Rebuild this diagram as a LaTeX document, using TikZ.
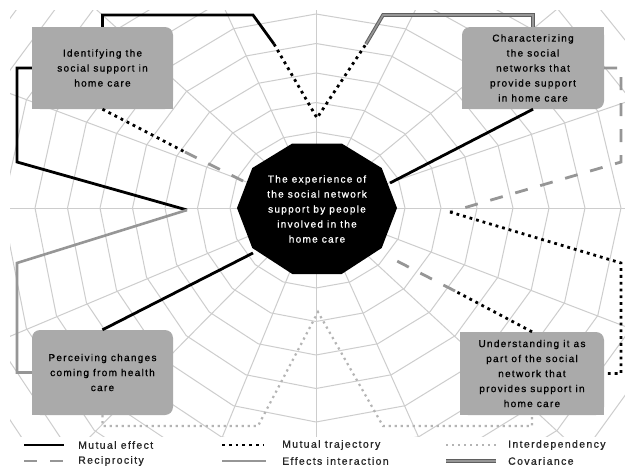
\documentclass[tikz,border=0pt]{standalone}
\usepackage{fontspec}
\setmainfont{Liberation Sans}[LetterSpace=13,FakeBold=0.9]
\usetikzlibrary{calc}
\definecolor{boxgray}{RGB}{170,170,170}
\definecolor{webgray}{RGB}{205,205,205}
\definecolor{recipgray}{RGB}{150,150,150}
\definecolor{effgray}{RGB}{150,150,150}
\definecolor{interdepgray}{RGB}{180,180,180}
\definecolor{covdark}{RGB}{95,95,95}
\definecolor{covlight}{RGB}{150,150,150}
\newcommand\bxfont{\fontsize{10}{15}\selectfont}
\newcommand\lgfont{\fontsize{10.5}{12}\selectfont}
\begin{document}
\begin{tikzpicture}[x=1pt,y=-1pt,
  webline/.style={draw=webgray, line width=1pt, line join=round},
  meffect/.style={draw=black, line width=2.8pt},
  mtraj/.style={draw=black, line width=2.8pt, dash pattern=on 2.8pt off 4pt},
  interdep/.style={draw=interdepgray, line width=2.2pt, dash pattern=on 2.2pt off 3.8pt},
  recip/.style={draw=recipgray, line width=2.8pt, dash pattern=on 13pt off 13pt},
  effint/.style={draw=effgray, line width=2.6pt},
  covar/.style={draw=covdark, line width=1pt, double=covlight, double distance=1.6pt},
  gbox/.style={fill=boxgray, rounded corners=8pt, inner sep=0pt, align=center, font=\bxfont, text=black},
  lgtext/.style={anchor=west, inner sep=0pt, font=\lgfont, text=black!85}]
\useasboundingbox (0,0) rectangle (625,469);
\fill[white] (0,0) rectangle (625,469);
% ---------- web ----------
\def\cx{316}\def\cy{208}
\coordinate (wc) at (\cx,\cy);
\foreach \k in {1,...,13}{
  \foreach \i in {0,...,15}{
    \pgfmathsetmacro\c{cos(90+22.5*\i)}
    \pgfmathsetmacro\s{sin(90+22.5*\i)}
    \pgfmathsetmacro\a{\c>0 ? 89+36*(\k-1) : 86+32.5*(\k-1)}
    \pgfmathsetmacro\b{\s>0 ? 76+29.5*(\k-1) : 80+33.5*(\k-1)}
    \coordinate (w-\k-\i) at ({\cx+\a*\c},{\cy-\b*\s});
  }
}
\begin{scope}
\clip (10,10) rectangle (625,436);
\foreach \i in {0,...,15} \draw[webline] (wc) -- (w-13-\i);
\foreach \k in {1,...,13} \draw[webline] (w-\k-0) \foreach \i in {1,...,15}{ -- (w-\k-\i) } -- cycle;
\end{scope}
% ---------- centre ----------
\fill[black] (397,208) -- (381.7,168) -- (341.7,143.5) -- (292.3,143.5) -- (252.3,168) -- (237,208)
  -- (252.3,248) -- (292.3,274) -- (341.7,274) -- (381.7,248) -- cycle;
\node[align=center, text=white, font=\bxfont, inner sep=0pt] (core) at (317,209)
  {The experience of\\the social network\\support by people\\involved in the\\home care};
% ---------- boxes (nodes) ----------
\node[gbox, minimum width=141pt, minimum height=82pt] (b1) at (102.5,68) {Identifying the\\social support in\\home care};
\node[gbox, minimum width=142pt, minimum height=82pt] (b2) at (533,68) {Characterizing\\the social\\networks that\\provide support\\in home care};
\node[gbox, minimum width=141pt, minimum height=85pt] (b3) at (102.5,372.5) {Perceiving changes\\coming from health\\care};
\node[gbox, minimum width=144pt, minimum height=83pt] (b4) at (532,373.5) {Understanding it as\\part of the social\\network that\\provides support in\\home care};
% square corners
\fill[boxgray] (b1.north west) rectangle ++(9,9);
\fill[boxgray] (b1.south west) rectangle ++(9,-9);
\fill[boxgray] (b1.south east) rectangle ++(-9,-9);
\fill[boxgray] (b2.north east) rectangle ++(-9,9);
\fill[boxgray] (b2.south west) rectangle ++(9,-9);
\fill[boxgray] (b3.south west) rectangle ++(9,-9);
\fill[boxgray] (b4.north west) rectangle ++(9,9);
\fill[boxgray] (b4.south west) rectangle ++(9,-9);
\fill[boxgray] (b4.south east) rectangle ++(-9,-9);
% ---------- connector points ----------
\coordinate (p2) at (253,15);
\coordinate (p3) at (274,44);
\coordinate (p4) at (317,118);
\coordinate (p5) at (366,44);
\coordinate (p6) at (383,15);
\coordinate (q1) at (17,162);
\coordinate (q2) at (187,210);
\coordinate (q3) at (17,263);
\coordinate (r1) at (185,152);
\coordinate (r2) at (243,181);
\coordinate (e2) at (390,183);
\coordinate (s1) at (621,162);
\coordinate (s2) at (450,212);
\coordinate (s3) at (621,263);
\coordinate (t1) at (455,291);
\coordinate (t2) at (395,260);
\coordinate (e3) at (253,253);
\coordinate (u1) at (258,426);
\coordinate (u2) at (318,312);
\coordinate (u3) at (383,426);
% ---------- connectors ----------
\draw[meffect] (b1.north) |- (p2) -- (p3);
\draw[mtraj] (p3) -- (p4) -- (p5);
\draw[covar] (p5) -- (p6) -| (b2.north);
\draw[meffect] (b1.west) -| (q1) -- (q2);
\draw[effint] (q2) -- (q3) |- (b3.west);
\draw[mtraj] (b1.south) -- (r1);
\draw[recip] (r1) -- (r2);
\draw[meffect] (b2.south) -- (e2);
\draw[recip] (b2.east) -| (s1) -- (s2);
\draw[mtraj] (s2) -- (s3) |- (b4.east);
\draw[mtraj] (b4.north) -- (t1);
\draw[recip] (t1) -- (t2);
\draw[meffect] (b3.north) -- (e3);
\draw[interdep] (b3.south) |- (u1) -- (u2) -- (u3) -| (b4.south);
% ---------- legend ----------
\node[lgtext] (l1) at (78,445) {Mutual effect};
\node[lgtext] (l2) at (282,445) {Mutual trajectory};
\node[lgtext] (l3) at (508,445) {Interdependency};
\node[lgtext] (l4) at (78,461) {Reciprocity};
\node[lgtext] (l5) at (282,461) {Effects interaction};
\node[lgtext] (l6) at (508,461) {Covariance};
\draw[meffect] ([xshift=-54pt]l1.west) -- ([xshift=-14pt]l1.west);
\draw[mtraj] ([xshift=-60pt]l2.west) -- ([xshift=-18pt]l2.west);
\draw[interdep] ([xshift=-62pt]l3.west) -- ([xshift=-12pt]l3.west);
\draw[recip] ([xshift=-54pt]l4.west) -- ([xshift=-14pt]l4.west);
\draw[effint] ([xshift=-60pt]l5.west) -- ([xshift=-16pt]l5.west);
\draw[covar] ([xshift=-62pt]l6.west) -- ([xshift=-12pt]l6.west);
\end{tikzpicture}
\end{document}
